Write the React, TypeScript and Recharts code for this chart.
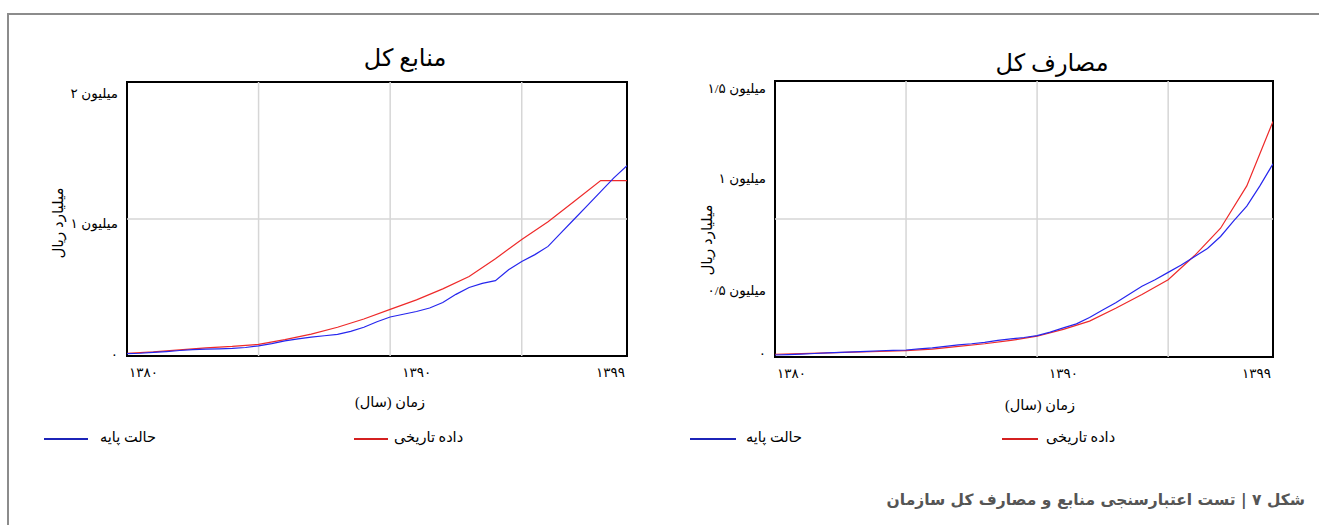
import React from 'react';
import { LineChart, Line, XAxis, YAxis, ReferenceLine, ReferenceArea } from 'recharts';

// ---------- data (values in million) ----------
const historicalYears = [1380, 1381, 1382, 1383, 1384, 1385, 1386, 1387, 1388, 1389, 1390, 1391, 1392, 1393, 1394, 1395, 1396, 1397, 1398, 1399];
const baseYears = [1380, 1380.5, 1381, 1381.5, 1382, 1382.5, 1383, 1383.5, 1384, 1384.5, 1385, 1385.5, 1386, 1386.5, 1387, 1387.5, 1388, 1388.5, 1389, 1389.5, 1390, 1390.5, 1391, 1391.5, 1392, 1392.5, 1393, 1393.5, 1394, 1394.5, 1395, 1395.5, 1396, 1396.5, 1397, 1397.5, 1398, 1398.5, 1399];

const resourcesHistorical = [0.02, 0.03, 0.045, 0.06, 0.07, 0.085, 0.12, 0.16, 0.21, 0.27, 0.34, 0.41, 0.49, 0.58, 0.71, 0.85, 0.98, 1.13, 1.28, 1.28];
const resourcesBase = [0.017, 0.02, 0.026, 0.032, 0.04, 0.046, 0.05, 0.052, 0.055, 0.062, 0.074, 0.09, 0.11, 0.125, 0.138, 0.148, 0.158, 0.18, 0.21, 0.25, 0.285, 0.305, 0.325, 0.35, 0.39, 0.45, 0.5, 0.53, 0.55, 0.63, 0.69, 0.74, 0.8, 0.9, 1.0, 1.1, 1.2, 1.3, 1.39];

const expensesHistorical = [0.015, 0.018, 0.022, 0.026, 0.03, 0.035, 0.043, 0.058, 0.072, 0.09, 0.113, 0.15, 0.195, 0.265, 0.34, 0.42, 0.55, 0.7, 0.93, 1.28];
const expensesBase = [0.011, 0.013, 0.016, 0.019, 0.022, 0.025, 0.028, 0.031, 0.034, 0.036, 0.038, 0.044, 0.05, 0.058, 0.066, 0.072, 0.08, 0.09, 0.098, 0.106, 0.116, 0.135, 0.158, 0.18, 0.215, 0.255, 0.295, 0.34, 0.385, 0.42, 0.46, 0.5, 0.545, 0.59, 0.655, 0.74, 0.82, 0.93, 1.05];

const xTicks = [1380, 1390, 1399];
const gridYears = [1385, 1390, 1395];

const resYTicks = [0, 1, 2];
const resYLabels = ['۰', '۱ میلیون', '۲ میلیون'];
const resYDy = [-2, 4, 11];
const resGridY = [1];

const expYTicks = [0, 0.5, 1, 1.5];
const expYLabels = ['۰', '۰/۵ میلیون', '۱ میلیون', '۱/۵ میلیون'];
const expYDy = [-4, 25, 5, 7];
const expGridY = [0.75];

const seriesNames = ['حالت پایه', 'داده تاریخی'];
const seriesColors = ['#2626ee', '#ee2a2a'];
const legendColors = ['#1c24b8', '#d42020'];

const titles = ['منابع کل', 'مصارف کل'];
const xTitle = 'زمان (سال)';
const yTitle = 'میلیارد ریال';
const caption = 'شکل ۷ | تست اعتبارسنجی منابع و مصارف کل سازمان';

// ---------- helpers ----------
const FONT = "'Times New Roman', 'DejaVu Serif', 'DejaVu Sans', serif";
const TICK_SIZE = 13.5;
const toFa = (n: number) => String(n).replace(/[0-9]/g, (d) => '۰۱۲۳۴۵۶۷۸۹'[Number(d)]);
const pairs = (xs: number[], vs: number[]) => xs.map((t, i) => ({ t, v: vs[i] }));

let measureCtx: CanvasRenderingContext2D | null = null;
const measure = (s: string, size: number) => {
  if (!measureCtx) {
    measureCtx = document.createElement('canvas').getContext('2d');
  }
  if (!measureCtx) return s.length * size * 0.5;
  measureCtx.font = `${size}px ${FONT}`;
  return measureCtx.measureText(s).width;
};

const Txt = ({ x, y, size, children, rotate = 0, weight = 400, color = '#000', font = FONT }: any) => (
  <div
    style={{
      position: 'absolute',
      left: x,
      top: y,
      transform: `translate(-50%, -50%) rotate(${rotate}deg)`,
      fontSize: size,
      fontFamily: font,
      fontWeight: weight,
      color,
      whiteSpace: 'nowrap',
      lineHeight: 1,
    }}
  >
    {children}
  </div>
);

type ChartProps = {
  left: number;
  width: number;
  margin: { top: number; right: number; bottom: number; left: number };
  yMax: number;
  yTicks: number[];
  yLabels: string[];
  yDy: number[];
  gridY: number[];
  base: { t: number; v: number }[];
  hist: { t: number; v: number }[];
};

const xAnchor = ['start', 'start', 'end'];
const xDx = [2, 12, -2];

const MiniChart = ({ left, width, margin, yMax, yTicks, yLabels, yDy, gridY, base, hist }: ChartProps) => {
  const renderXTick = (p: any) => {
    const i = xTicks.indexOf(p.payload.value);
    return (
      <text x={p.x} y={p.y} dx={xDx[i]} dy={16} textAnchor={xAnchor[i]} dominantBaseline="central" fontSize={TICK_SIZE} fontFamily={FONT} fill="#000">
        {toFa(p.payload.value)}
      </text>
    );
  };
  const renderYTick = (p: any) => {
    const i = yTicks.indexOf(p.payload.value);
    const parts = yLabels[i].split(' ');
    const num = parts[0];
    const unit = parts.slice(1).join(' ');
    const unitW = unit ? measure(unit, TICK_SIZE) + measure(' ', TICK_SIZE) : 0;
    return (
      <g>
        {unit && (
          <text x={p.x} y={p.y} dy={yDy[i]} textAnchor="end" dominantBaseline="central" fontSize={TICK_SIZE} fontFamily={FONT} fill="#000">
            {unit}
          </text>
        )}
        <text x={p.x - unitW} y={p.y} dy={yDy[i]} textAnchor="end" dominantBaseline="central" fontSize={TICK_SIZE} fontFamily={FONT} fill="#000">
          {num}
        </text>
      </g>
    );
  };
  return (
    <div style={{ position: 'absolute', left, top: 0 }}>
      <LineChart width={width} height={470} margin={margin}>
        <XAxis
          type="number"
          dataKey="t"
          domain={[1380, 1399]}
          ticks={xTicks}
          allowDataOverflow
          axisLine={false}
          tickLine={false}
          tickSize={0}
          tickMargin={0}
          height={30}
          tick={renderXTick}
          interval={0}
        />
        <YAxis
          type="number"
          domain={[0, yMax]}
          ticks={yTicks}
          allowDataOverflow
          axisLine={false}
          tickLine={false}
          tickSize={0}
          tickMargin={9}
          width={60}
          tick={renderYTick}
          interval={0}
        />
        {gridYears.map((g) => (
          <ReferenceLine key={'gx' + g} x={g} stroke="#d6d6d6" strokeWidth={1.5} />
        ))}
        {gridY.map((g) => (
          <ReferenceLine key={'gy' + g} y={g} stroke="#d6d6d6" strokeWidth={1.5} />
        ))}
        <Line data={hist} dataKey="v" stroke={seriesColors[1]} strokeWidth={1.2} dot={false} isAnimationActive={false} type="linear" />
        <Line data={base} dataKey="v" stroke={seriesColors[0]} strokeWidth={1.2} dot={false} isAnimationActive={false} type="linear" />
        <ReferenceArea x1={1380} x2={1399} y1={0} y2={yMax} fill="none" fillOpacity={0} stroke="#000" strokeWidth={2} />
      </LineChart>
    </div>
  );
};

const LegendItem = ({ lineX, lineW, textX, y, color, label }: any) => (
  <>
    <div style={{ position: 'absolute', left: lineX, top: y + 1, width: lineW, height: 2, background: color }} />
    <div
      style={{
        position: 'absolute',
        left: textX,
        top: y - 9,
        fontSize: 14.5,
        fontFamily: FONT,
        whiteSpace: 'nowrap',
        lineHeight: '18px',
        color: '#000',
      }}
    >
      {label}
    </div>
  </>
);

export default function App() {
  return (
    <div style={{ position: 'absolute', left: 0, top: 0, width: 1319, height: 525, background: '#fff', overflow: 'hidden' }}>
      {/* outer frame */}
      <div style={{ position: 'absolute', left: 7, top: 13, width: 1330, height: 540, borderTop: '2px solid #8c8c8c', borderLeft: '2px solid #8c8c8c' }} />

      <MiniChart
        left={0}
        width={650}
        margin={{ top: 82, right: 23, bottom: 84, left: 67 }}
        yMax={2}
        yTicks={resYTicks}
        yLabels={resYLabels}
        yDy={resYDy}
        gridY={resGridY}
        base={pairs(baseYears, resourcesBase)}
        hist={pairs(historicalYears, resourcesHistorical)}
      />
      <MiniChart
        left={650}
        width={669}
        margin={{ top: 81, right: 46, bottom: 83, left: 65 }}
        yMax={1.5}
        yTicks={expYTicks}
        yLabels={expYLabels}
        yDy={expYDy}
        gridY={expGridY}
        base={pairs(baseYears, expensesBase)}
        hist={pairs(historicalYears, expensesHistorical)}
      />

      {/* titles */}
      <Txt x={405} y={58} size={24}>{titles[0]}</Txt>
      <Txt x={1052} y={63} size={24}>{titles[1]}</Txt>

      {/* axis titles */}
      <Txt x={390} y={402} size={14.5}>{xTitle}</Txt>
      <Txt x={1040} y={405} size={14.5}>{xTitle}</Txt>
      <Txt x={58} y={223} size={15} rotate={-90}>{yTitle}</Txt>
      <Txt x={707} y={240} size={15} rotate={-90}>{yTitle}</Txt>

      {/* legends */}
      <LegendItem lineX={44} lineW={44} textX={100} y={437} color={legendColors[0]} label={seriesNames[0]} />
      <LegendItem lineX={354} lineW={34} textX={394} y={437} color={legendColors[1]} label={seriesNames[1]} />
      <LegendItem lineX={690} lineW={46} textX={746} y={437} color={legendColors[0]} label={seriesNames[0]} />
      <LegendItem lineX={1002} lineW={36} textX={1046} y={437} color={legendColors[1]} label={seriesNames[1]} />

      {/* caption */}
      <div
        style={{
          position: 'absolute',
          right: 1319 - 1305,
          top: 490,
          direction: 'rtl',
          fontSize: 15.5,
          fontWeight: 700,
          fontFamily: "'DejaVu Sans', sans-serif",
          color: '#555',
          whiteSpace: 'nowrap',
          lineHeight: '20px',
        }}
      >
        {caption}
      </div>
    </div>
  );
}
